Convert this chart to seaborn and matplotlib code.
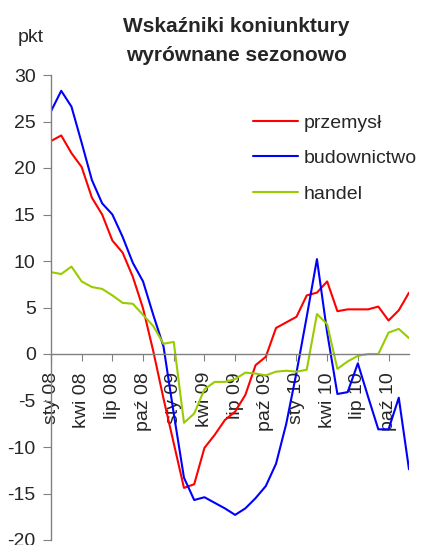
import matplotlib
matplotlib.use("Agg")
import matplotlib.pyplot as plt
import seaborn as sns
import pandas as pd
from matplotlib.lines import Line2D

months = ["sty", "lut", "mar", "kwi", "maj", "cze", "lip", "sie", "wrz", "paź", "lis", "gru"]
years = ["08", "09", "10"]
categories = [f"{m} {y}" for y in years for m in months]

przemysl = [22.9, 23.5, 21.6, 20.1, 16.8, 15.0, 12.2, 10.9, 8.3, 4.9, 0.3, -4.8,
            -9.6, -14.4, -14.0, -10.1, -8.7, -7.1, -6.2, -4.4, -1.2, -0.3, 2.8, 3.4,
            4.0, 6.3, 6.6, 7.8, 4.6, 4.8, 4.8, 4.8, 5.1, 3.6, 4.7, 6.6]
budownictwo = [26.1, 28.3, 26.6, 22.7, 18.7, 16.2, 15.0, 12.6, 9.8, 7.8, 4.2, 0.8,
               -6.4, -13.3, -15.7, -15.4, -16.0, -16.6, -17.3, -16.6, -15.5, -14.2, -11.8, -7.5,
               -2.0, 4.0, 10.2, 2.3, -4.3, -4.1, -1.0, -4.6, -8.1, -8.1, -4.7, -12.4]
handel = [8.8, 8.6, 9.4, 7.8, 7.2, 7.0, 6.3, 5.5, 5.4, 4.2, 3.0, 1.1,
          1.3, -7.4, -6.4, -3.8, -3.0, -3.0, -2.7, -2.0, -2.1, -2.3, -1.9, -1.8,
          -1.9, -1.7, 4.3, 3.2, -1.6, -0.8, -0.2, 0.0, 0.0, 2.3, 2.7, 1.7]

series_names = ["przemysł", "budownictwo", "handel"]
colors = ["#FF0000", "#0000FF", "#99CC00"]
yticks = [-20, -15, -10, -5, 0, 5, 10, 15, 20, 25, 30]

rows = []
for name, vals in zip(series_names, [przemysl, budownictwo, handel]):
    for i, v in enumerate(vals):
        rows.append({"idx": i, "val": v, "seria": name})
df = pd.DataFrame(rows)

sns.set_style("white")
plt.rcParams["font.family"] = ["Liberation Sans", "DejaVu Sans"]

FS = 14

fig = plt.figure(figsize=(4.24, 5.45), dpi=100)
ax = fig.add_axes([51 / 424, 5 / 545, (409 - 51) / 424, (540 - 75) / 545])

sns.lineplot(data=df, x="idx", y="val", hue="seria", palette=colors,
             hue_order=series_names, linewidth=1.5, ax=ax, legend=False)

ax.set_xlim(0, len(categories) - 1)
ax.set_ylim(-20, 30)
ax.set_yticks(yticks)
ax.set_yticklabels([str(t) for t in yticks], fontsize=FS)
ax.set_xlabel("")
ax.set_ylabel("")

for s in ["top", "right"]:
    ax.spines[s].set_visible(False)
ax.spines["left"].set_color("#808080")
ax.spines["bottom"].set_color("#808080")
ax.spines["bottom"].set_position(("data", 0))
ax.spines["left"].set_linewidth(1.0)
ax.spines["bottom"].set_linewidth(1.0)

xt = list(range(0, len(categories), 3))
ax.set_xticks(xt)
ax.set_xticklabels([categories[i] for i in xt], rotation=90, fontsize=FS,
                   ha="center", va="top")
ax.tick_params(axis="x", direction="out", length=5, color="#808080", pad=8)
ax.tick_params(axis="y", direction="out", length=6, color="#808080", pad=5)
ax.tick_params(axis="both", bottom=True, left=True)

handles = [Line2D([0], [0], color=c, lw=1.5) for c in colors]
leg = ax.legend(handles, series_names, loc="upper left",
                bbox_to_anchor=(253 / 424, 1 - 114 / 545),
                bbox_transform=fig.transFigure,
                frameon=False, fontsize=FS, handlelength=2.3, handletextpad=0.3,
                labelspacing=0.92, borderaxespad=0, borderpad=0)

fig.text(236 / 424, 1 - 27 / 545, "Wskaźniki koniunktury", ha="center", va="center",
         fontsize=15, fontweight="bold")
fig.text(236 / 424, 1 - 55 / 545, "wyrównane sezonowo", ha="center", va="center",
         fontsize=15, fontweight="bold")
fig.text(18 / 424, 1 - 38 / 545, "pkt", ha="left", va="center", fontsize=FS)

fig.savefig("out.png", dpi=100)
